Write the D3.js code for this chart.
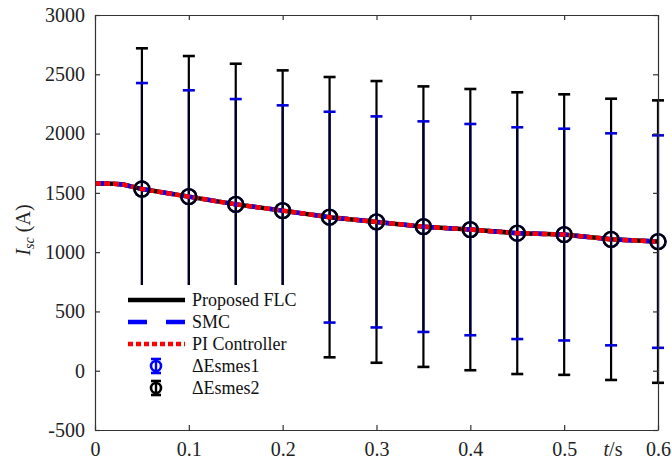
<!DOCTYPE html>
<html>
<head>
<meta charset="utf-8">
<script src="https://cdn.jsdelivr.net/npm/d3@7"></script>
<style>
  body { margin: 0; background: #fff; }
  text { font-family: "Liberation Serif", "Times New Roman", serif; }
</style>
</head>
<body>
<svg id="chart" width="672" height="461"></svg>
<script>
// Axis ticks
const xTicks = [0, 0.1, 0.2, 0.3, 0.4, 0.5, 0.6];
const xTickLabels = ["0", "0.1", "0.2", "0.3", "0.4", "0.5", "0.6"];
const yTicks = [-500, 0, 500, 1000, 1500, 2000, 2500, 3000];
const yTickLabels = ["-500", "0", "500", "1000", "1500", "2000", "2500", "3000"];

// Short-circuit current traces (A) against time (s)
const lineTime = [0, 0.01, 0.02, 0.03, 0.04, 0.05, 0.1, 0.15, 0.2, 0.25, 0.3, 0.35, 0.4, 0.45, 0.5, 0.55, 0.6];
const flcCurrent = [1578, 1578, 1577, 1570, 1551, 1532, 1468, 1403, 1350, 1295, 1255, 1215, 1190, 1160, 1148, 1108, 1089];
const smcCurrent = [1578, 1578, 1577, 1570, 1551, 1532, 1468, 1403, 1350, 1295, 1255, 1215, 1190, 1160, 1148, 1108, 1089];
const piCurrent  = [1578, 1578, 1577, 1570, 1551, 1532, 1468, 1403, 1350, 1295, 1255, 1215, 1190, 1160, 1148, 1108, 1089];

// Error bars of the SMES energy deviation
const errTime = [0.05, 0.1, 0.15, 0.2, 0.25, 0.3, 0.35, 0.4, 0.45, 0.5, 0.55, 0.6];
const esmes1Mean = [1532, 1468, 1403, 1350, 1295, 1255, 1215, 1190, 1160, 1148, 1108, 1089];
const esmes1Err  = [894, 897, 888, 888, 889, 890, 888, 891, 893, 893, 894, 896];
const esmes2Mean = [1532, 1468, 1403, 1350, 1295, 1255, 1215, 1190, 1160, 1148, 1108, 1089];
const esmes2Err  = [1187, 1186, 1186, 1183, 1182, 1188, 1183, 1186, 1188, 1183, 1186, 1191];

const legendLabels = ["Proposed FLC", "SMC", "PI Controller", "\u0394Esmes1", "\u0394Esmes2"];

const svg = d3.select("#chart");
const plotL = 95, plotR = 658, plotT = 15, plotB = 430;
const x = d3.scaleLinear().domain([0, 0.6]).range([plotL, plotR]);
const y = d3.scaleLinear().domain([-500, 3000]).range([plotB, plotT]);

const axisColor = "#333";
const tickFont = 20;
const capHalf = 6;

// Error bar stems
function drawStems(g, mean, err, color, w) {
  errTime.forEach((t, i) => {
    g.append("line").attr("x1", x(t)).attr("x2", x(t))
      .attr("y1", y(mean[i] + err[i])).attr("y2", y(mean[i] - err[i]))
      .attr("stroke", color).attr("stroke-width", w);
  });
}
// Error bar caps
function drawCaps(g, mean, err, color, w) {
  errTime.forEach((t, i) => {
    [mean[i] + err[i], mean[i] - err[i]].forEach(v => {
      g.append("line").attr("x1", x(t) - capHalf).attr("x2", x(t) + capHalf)
        .attr("y1", y(v)).attr("y2", y(v))
        .attr("stroke", color).attr("stroke-width", w);
    });
  });
}

const gErr = svg.append("g");
drawStems(gErr, esmes1Mean, esmes1Err, "#0000cc", 2.2);
drawStems(gErr, esmes2Mean, esmes2Err, "#000", 2.2);
drawStems(gErr, esmes1Mean, esmes1Err, "#000033", 0.8);
drawCaps(gErr, esmes2Mean, esmes2Err, "#000", 2.6);
drawCaps(gErr, esmes1Mean, esmes1Err, "#0000dd", 2.6);

// Current traces
const line = d3.line().x((d, i) => x(lineTime[i])).y(d => y(d));
svg.append("path").datum(flcCurrent).attr("d", line)
  .attr("fill", "none").attr("stroke", "#000").attr("stroke-width", 4.5);
svg.append("path").datum(smcCurrent).attr("d", line)
  .attr("fill", "none").attr("stroke", "#0000ff").attr("stroke-width", 4.5)
  .attr("stroke-dasharray", "14,8");
svg.append("path").datum(piCurrent).attr("d", line)
  .attr("fill", "none").attr("stroke", "#ff0000").attr("stroke-width", 4.5)
  .attr("stroke-dasharray", "6,3");

// Circle markers at the error-bar centres
svg.append("g").selectAll("circle").data(esmes1Mean).join("circle")
  .attr("cx", (d, i) => x(errTime[i])).attr("cy", d => y(d)).attr("r", 7.5)
  .attr("fill", "none").attr("stroke", "#0000ff").attr("stroke-width", 2.4);
svg.append("g").selectAll("circle").data(esmes2Mean).join("circle")
  .attr("cx", (d, i) => x(errTime[i])).attr("cy", d => y(d)).attr("r", 7.5)
  .attr("fill", "none").attr("stroke", "#000").attr("stroke-width", 2.4);

// Axes (ticks point inward on all four sides)
function styleAxis(g) {
  g.selectAll("path.domain").attr("stroke", axisColor).attr("stroke-width", 1.2);
  g.selectAll(".tick line").attr("stroke", axisColor).attr("stroke-width", 1.2);
  g.selectAll(".tick text").attr("fill", "#222").style("font-size", tickFont + "px")
    .style("font-family", "'Liberation Serif', serif");
}

const xAxis = d3.axisBottom(x).tickValues(xTicks)
  .tickFormat((d, i) => xTickLabels[i]).tickSizeInner(-5).tickSizeOuter(0).tickPadding(15);
svg.append("g").attr("transform", `translate(0,${plotB})`).call(xAxis).call(styleAxis)
  .selectAll(".tick text").attr("y", 26).attr("dy", null);

const yAxis = d3.axisLeft(y).tickValues(yTicks)
  .tickFormat((d, i) => yTickLabels[i]).tickSizeInner(-5).tickSizeOuter(0).tickPadding(10);
svg.append("g").attr("transform", `translate(${plotL},0)`).call(yAxis).call(styleAxis);

svg.append("g").attr("transform", `translate(0,${plotT})`)
  .call(d3.axisTop(x).tickValues(xTicks).tickFormat("").tickSizeInner(-5).tickSizeOuter(0))
  .call(styleAxis);
svg.append("g").attr("transform", `translate(${plotR},0)`)
  .call(d3.axisRight(y).tickValues(yTicks).tickFormat("").tickSizeInner(-5).tickSizeOuter(0))
  .call(styleAxis);

// Axis titles
const tLabel = svg.append("text").attr("x", 613).attr("y", 456)
  .attr("text-anchor", "middle").style("font-size", "20px").attr("fill", "#222");
tLabel.append("tspan").style("font-style", "italic").text("t");
tLabel.append("tspan").text("/s");

const yLabel = svg.append("text")
  .attr("transform", "translate(30,230) rotate(-90)")
  .attr("text-anchor", "middle").style("font-size", "20px").attr("fill", "#222");
yLabel.append("tspan").style("font-style", "italic").text("I");
yLabel.append("tspan").style("font-style", "italic").style("font-size", "14px")
  .attr("dy", 4).text("sc");
yLabel.append("tspan").attr("dy", -4).text(" (A)");

// Legend
const lg = svg.append("g");
lg.append("rect").attr("x", 114).attr("y", 285).attr("width", 190).attr("height", 113)
  .attr("fill", "#fff");
const rowY = [300, 322, 344, 366, 388];
const sx0 = 128, sx1 = 185, textX = 192;
lg.append("line").attr("x1", sx0).attr("x2", sx1).attr("y1", rowY[0]).attr("y2", rowY[0])
  .attr("stroke", "#000").attr("stroke-width", 4.5);
lg.append("line").attr("x1", sx0).attr("x2", sx1).attr("y1", rowY[1]).attr("y2", rowY[1])
  .attr("stroke", "#0000ff").attr("stroke-width", 4.5).attr("stroke-dasharray", "19,19");
lg.append("line").attr("x1", sx0).attr("x2", sx1).attr("y1", rowY[2]).attr("y2", rowY[2])
  .attr("stroke", "#ff0000").attr("stroke-width", 4.5).attr("stroke-dasharray", "5,3");
[["#0000ff", rowY[3]], ["#000", rowY[4]]].forEach(([c, yy]) => {
  const ix = 156;
  lg.append("line").attr("x1", ix).attr("x2", ix).attr("y1", yy - 7).attr("y2", yy + 7)
    .attr("stroke", c).attr("stroke-width", 2.4);
  lg.append("line").attr("x1", ix - 5).attr("x2", ix + 5).attr("y1", yy - 7).attr("y2", yy - 7)
    .attr("stroke", c).attr("stroke-width", 2.6);
  lg.append("line").attr("x1", ix - 5).attr("x2", ix + 5).attr("y1", yy + 7).attr("y2", yy + 7)
    .attr("stroke", c).attr("stroke-width", 2.6);
  lg.append("circle").attr("cx", ix).attr("cy", yy).attr("r", 5)
    .attr("fill", "none").attr("stroke", c).attr("stroke-width", 2.6);
});
legendLabels.forEach((lab, i) => {
  lg.append("text").attr("x", textX).attr("y", rowY[i]).attr("dy", "0.35em")
    .style("font-size", "18px").attr("fill", "#111").text(lab);
});
</script>
</body>
</html>
